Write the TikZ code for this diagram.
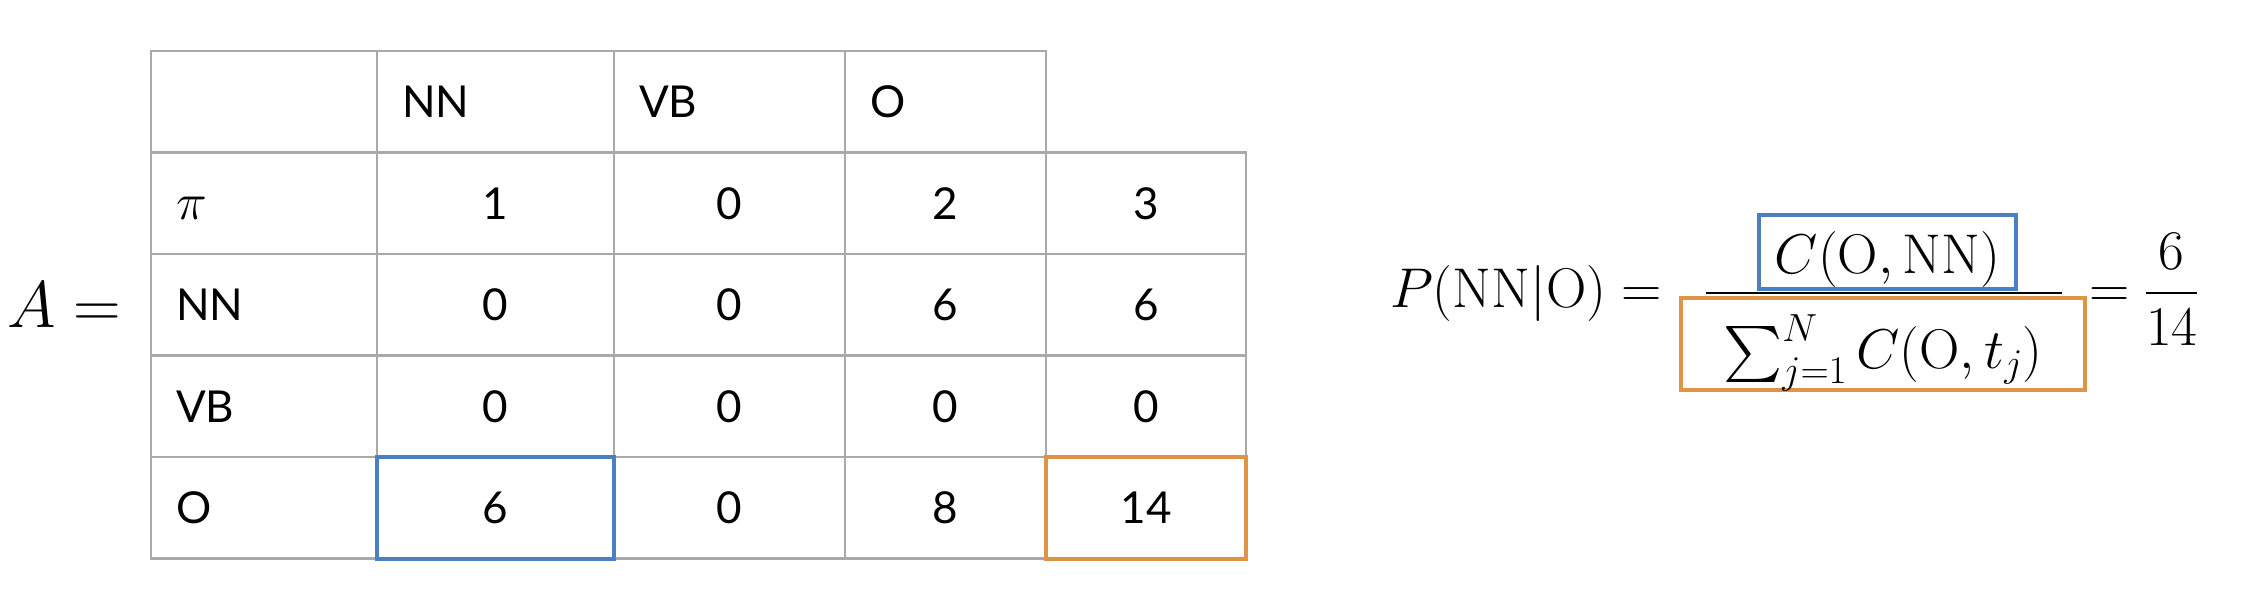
\RequirePackage{fix-cm}
\documentclass[tikz,border=0pt]{standalone}
\usepackage[no-math]{fontspec}
\DeclareFontShape{OMX}{cmex}{m}{n}{<->cmex10}{}
\newfontfamily\latofont{Lato}
\definecolor{gridgray}{HTML}{A9A9A9}
\definecolor{hlblue}{HTML}{4A7FC1}
\definecolor{hlorange}{HTML}{DE9346}
\begin{document}
\begin{tikzpicture}[x=1pt,y=-1pt,
  cell/.style={rectangle, draw=gridgray, line width=2.6pt, inner sep=0pt, outer sep=0pt,
    minimum height=101.5pt, text height=32pt, text depth=0pt,
    font=\latofont\fontsize{44}{48}\selectfont},
  lcell/.style={cell, text width=#1, inner xsep=25pt, align=left},
  ncell/.style={cell, minimum width=#1},
  hlcell/.style={ncell=#1, line width=4pt},
  fbox/.style={rectangle, draw=#1, line width=3.5pt, inner sep=0pt, outer sep=0pt,
    font=\fontsize{56}{60}\selectfont},
  mtext/.style={inner sep=0pt, outer sep=0pt, font=\fontsize{56}{60}\selectfont},
]
\useasboundingbox (0,0) rectangle (2246,600);
% header row
\node[lcell=176pt] (h0) at (264,101.75) {};
\node[lcell=187pt] (h1) at (495.5,101.75) {NN};
\node[lcell=181pt] (h2) at (729.5,101.75) {VB};
\node[lcell=151pt] (h3) at (945.5,101.75) {O};
% pi row
\node[lcell=176pt, font=\fontsize{52}{56}\selectfont] (p0) at (264,203.25) {$\pi$};
\node[ncell=237pt] (p1) at (495.5,203.25) {1};
\node[ncell=231pt] (p2) at (729.5,203.25) {0};
\node[ncell=201pt] (p3) at (945.5,203.25) {2};
\node[ncell=200pt] (p4) at (1146,203.25) {3};
% NN row
\node[lcell=176pt] (n0) at (264,304.75) {NN};
\node[ncell=237pt] (n1) at (495.5,304.75) {0};
\node[ncell=231pt] (n2) at (729.5,304.75) {0};
\node[ncell=201pt] (n3) at (945.5,304.75) {6};
\node[ncell=200pt] (n4) at (1146,304.75) {6};
% VB row
\node[lcell=176pt] (v0) at (264,406.25) {VB};
\node[ncell=237pt] (v1) at (495.5,406.25) {0};
\node[ncell=231pt] (v2) at (729.5,406.25) {0};
\node[ncell=201pt] (v3) at (945.5,406.25) {0};
\node[ncell=200pt] (v4) at (1146,406.25) {0};
% O row
\node[lcell=176pt] (o0) at (264,507.75) {O};
\node[ncell=231pt] (o2) at (729.5,507.75) {0};
\node[ncell=201pt] (o3) at (945.5,507.75) {8};
\node[hlcell=237pt, draw=hlblue] (o1) at (495.5,507.75) {6};
\node[hlcell=200pt, draw=hlorange] (o4) at (1146,507.75) {14};
% A =
\node[anchor=base west, inner sep=0pt, font=\fontsize{66}{70}\selectfont] (Aeq) at (7,327) {$A=$};
% formula
\node[mtext, anchor=base west] (lhs) at (1390,307) {$P(\mathrm{NN}|\mathrm{O}) =$};
\node[fbox=hlblue, minimum width=257pt, text height=58pt, text depth=16pt, anchor=base] (num) at (1887.5,273) {$C(\mathrm{O},\mathrm{NN})$};
\node[fbox=hlorange, minimum width=404pt, text height=70pt, text depth=22pt, anchor=base] (den) at (1883,368) {$\textstyle\sum_{j=1}^{N} C(\mathrm{O},t_j)$};
\coordinate (barL) at (1706,293);
\coordinate (barR) at (2062,293);
\draw[line width=2.4pt] (barL) -- (barR);
\node[mtext, anchor=base west] (rhs) at (2089,307) {$=\displaystyle\frac{6}{14}$};
\end{tikzpicture}
\end{document}
